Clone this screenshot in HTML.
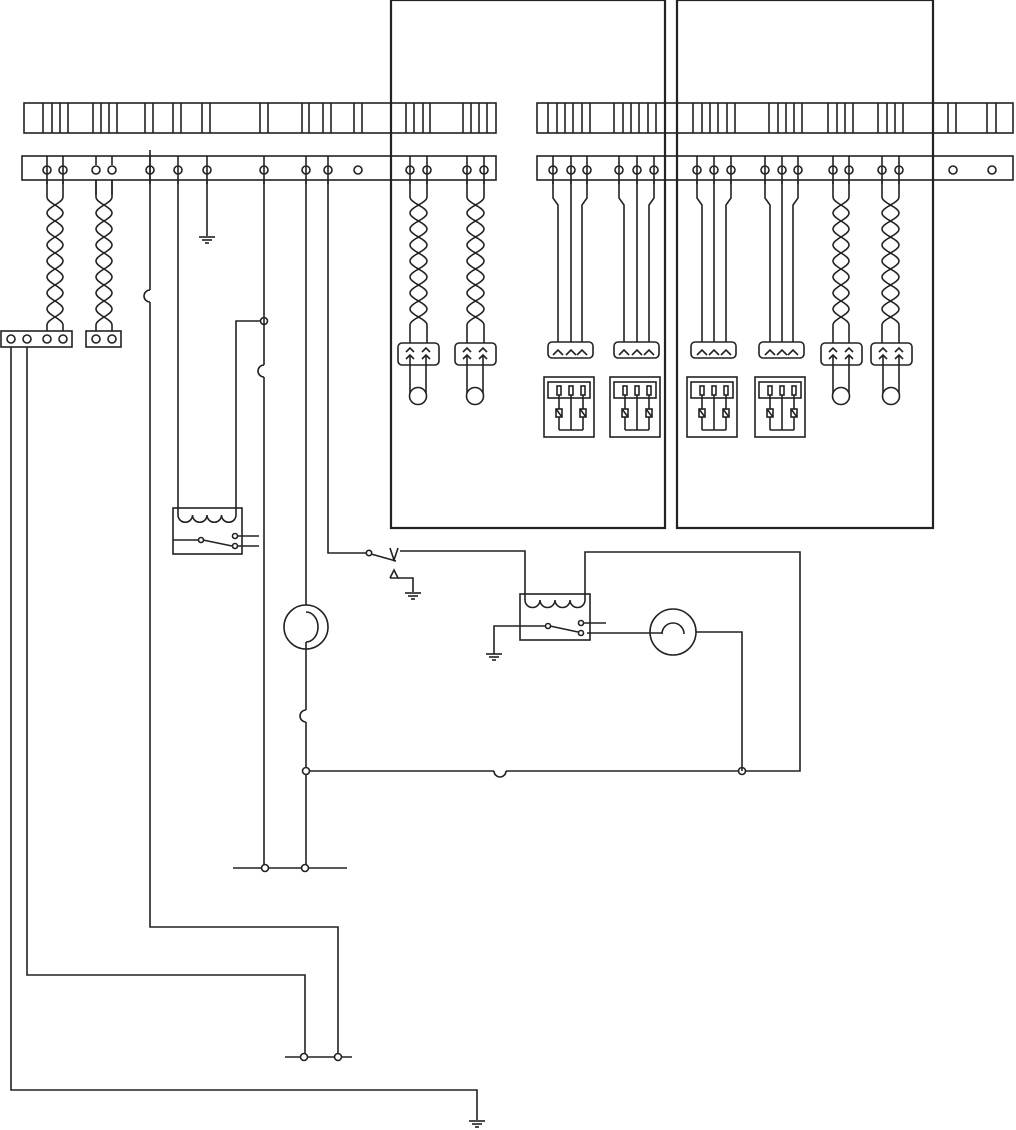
<!DOCTYPE html>
<html><head><meta charset="utf-8"><style>
html,body{margin:0;padding:0;background:#fff;width:1016px;height:1130px;overflow:hidden}
svg{display:block}
</style></head><body>
<svg id="s" width="1016" height="1130" viewBox="0 0 1016 1130" xmlns="http://www.w3.org/2000/svg" fill="none" stroke="#222" stroke-width="1.6"></svg>
<script>
var o=[];
function L(pts){o.push('<polyline points="'+pts+'"/>');}
function R(x,y,w,h,extra){o.push('<rect x="'+x+'" y="'+y+'" width="'+w+'" height="'+h+'" '+(extra||'')+'/>');}
function C(x,y,r,extra){o.push('<circle cx="'+x+'" cy="'+y+'" r="'+r+'" fill="#fff" '+(extra||'')+'/>');}
function P(d,extra){o.push('<path d="'+d+'" '+(extra||'')+'/>');}
function gnd(x,y){L(x-8+','+y+' '+(x+8)+','+y);L(x-5+','+(y+3)+' '+(x+5)+','+(y+3));L(x-2+','+(y+6)+' '+(x+2)+','+(y+6));}
function term(x,y){C(x,y,4);L(x+','+(y-14)+' '+x+','+(y+14));}
function hopV(x,y){P('M'+x+' '+y+' a6 6 0 0 0 0 12'); }
R(24,103,472,30,'fill="#fff"');R(537,103,476,30,'fill="#fff"');
[43,52,60,68,93,101,109,117,145,153,173,181,202,210,260,268,302,309,323,331,354,362,406,414,423,430,463,471,479,487,
548,557,565,573,582,590,614,623,631,639,648,656,693,702,710,718,727,735,769,778,786,794,802,828,837,845,853,878,887,895,903,948,956,987,996].forEach(function(x){L(x+',103 '+x+',133');});
R(22,156,474,24,'fill="#fff"');R(537,156,476,24,'fill="#fff"');
R(391,0,274,528,'stroke-width="2.2"');R(677,0,256,528,'stroke-width="2.2"');
[47,63,150,178,207,264,306,328,410,427,467,484,553,571,587,619,637,654,697,714,731,765,782,798,833,849,882,899].forEach(function(x){term(x,170);});
[96,112].forEach(function(x){L(x+',180 '+x+',195');C(x,170,4);});
C(358,170,4);C(953,170,4);C(992,170,4);
L('150,150 150,180');L('96,156 96,165');L('112,156 112,165');
function twist(x1,x2,y0,ys,ye,y1){
 var m=(x1+x2)/2,w=(x2-x1)/2,a=[],b=[];
 a.push(x1+','+y0);b.push(x2+','+y0);
 for(var y=ys;y<=ye+0.01;y+=1){var t=Math.cos(Math.PI*(y-ys)/16);a.push((m-w*t).toFixed(1)+','+y);b.push((m+w*t).toFixed(1)+','+y);}
 a.push(x1+','+y1);b.push(x2+','+y1);
 L(a.join(' '));L(b.join(' '));
}
twist(47,63,180,197,325,339);twist(96,112,180,197,325,339);
twist(410,427,180,197,325,350);twist(467,484,180,197,325,350);
twist(833,849,180,197,325,350);twist(882,899,180,197,325,350);
R(1,331,71,16,'fill="#fff"');[11,27,47,63].forEach(function(x){C(x,339,4);});
R(86,331,35,16,'fill="#fff"');[96,112].forEach(function(x){C(x,339,4);});
function conn2(cx,y){var x1=cx-8,x2=cx+8;R(cx-20,343,41,22,'rx="4" fill="#fff"');
 [x1,x2].forEach(function(x){L((x-4)+',352 '+x+',348 '+(x+4)+',352');L((x-4)+',359 '+x+',355 '+(x+4)+',359');L(x+',355 '+x+',365');});}
function loop(cx){L((cx-8)+',365 '+(cx-8)+',395');L((cx+8)+',365 '+(cx+8)+',395');C(cx,396,8.5);}
[418,475,841,891].forEach(function(c){conn2(c,343);loop(c);});
function three(xa,xb,xc){
 L(xa+',180 '+xa+',198 '+(xa+5)+',205 '+(xa+5)+',350');L(xb+',180 '+xb+',350');L(xc+',180 '+xc+',198 '+(xc-5)+',205 '+(xc-5)+',350');
 var cx=xb;R(cx-23,342,45,16,'rx="4" fill="#fff"');
 [xa+5,xb,xc-5].forEach(function(x){L((x-5)+',355 '+x+',350 '+(x+5)+',355');});
 var bx=cx-27;R(bx,377,50,60);R(bx+4,382,42,16);
 [cx-12,cx,cx+12].forEach(function(x){R(x-2,386,4,9);});
 L((cx-12)+',395 '+(cx-12)+',409');L((cx+12)+',395 '+(cx+12)+',409');
 [cx-12,cx+12].forEach(function(x){R(x-3,409,6,8);L((x-3)+',409 '+(x+3)+',417');L(x+',417 '+x+',430');});
 L((cx-12)+',430 '+(cx+12)+',430');L(cx+',395 '+cx+',430');
}
three(553,571,587);three(619,637,654);three(697,714,731);three(765,782,798);
L('207,180 207,236');gnd(207,237);
L('150,180 150,290');hopV(150,290);L('150,302 150,927 338,927 338,1057');
L('178,180 178,515');
R(173,508,69,46);P('M178 515 a7.25 7.25 0 0 0 14.5 0 a7.25 7.25 0 0 0 14.5 0 a7.25 7.25 0 0 0 14.5 0 a7.25 7.25 0 0 0 14.5 0');
L('236,515 236,321 264,321');C(264,321,3.5);
L('173,540 198,540');C(201,540,2.5);L('203,540 232,546');C(235,536,2.5);C(235,546,2.5);L('238,536 259,536');L('238,546 259,546');
L('264,180 264,365');hopV(264,365);L('264,377 264,868');
L('306,180 306,605');C(306,627,22);P('M306 612 a12 15 0 0 1 0 30');L('306,642 306,710');hopV(306,710);L('306,722 306,868');
L('306,771 494,771');P('M494 771 a6 6 0 0 0 12 0');L('506,771 800,771 800,552 585,552 585,600');C(306,771,3.5);C(742,771,3.5);
L('742,771 742,632 695,632');
C(673,632,23);P('M662 634 a11 11 0 0 1 22 0');L('587,633 662,633');
R(520,594,70,46);P('M525 600 a7.5 7.5 0 0 0 15 0 a7.5 7.5 0 0 0 15 0 a7.5 7.5 0 0 0 15 0 a7.5 7.5 0 0 0 15 0');
L('525,600 525,551 400,551');
L('494,654 494,626 546,626');C(548,626,2.5);L('550,626 578,632');C(581,623,2.5);C(581,633,2.5);L('584,623 606,623');
gnd(494,654);
L('328,180 328,553 366,553');C(369,553,2.7);L('371,554 396,561');L('390,548 394,560 398,548');
L('390,578 394,570 398,578 390,578');L('398,578 413,578 413,592');gnd(413,593);
L('233,868 347,868');C(265,868,3.5);C(305,868,3.5);
L('27,347 27,975 305,975 305,1057');L('285,1057 352,1057');C(304,1057,3.5);C(338,1057,3.5);
L('11,347 11,1090 477,1090 477,1120');gnd(477,1121);
document.getElementById('s').innerHTML=o.join('');
</script>
</body></html>
